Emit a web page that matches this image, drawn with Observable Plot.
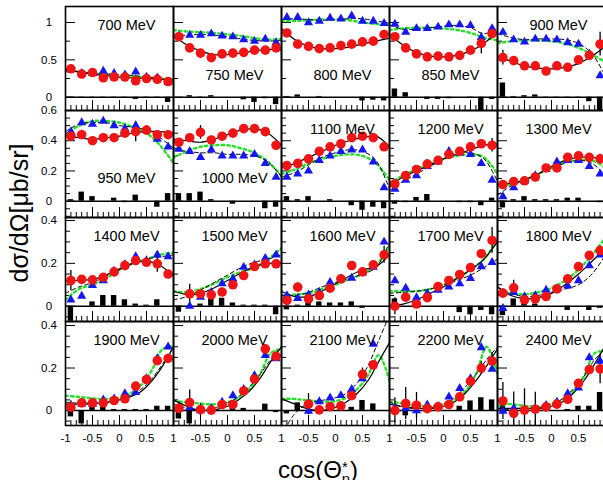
<!DOCTYPE html>
<html>
<head>
<meta charset="utf-8">
<script src="https://cdn.jsdelivr.net/npm/d3@7"></script>
<script src="https://cdn.jsdelivr.net/npm/@observablehq/plot@0.6"></script>
<style>
  html, body { margin: 0; padding: 0; background: #fff; overflow: hidden; }
  #fig { position: relative; width: 603px; height: 480px; overflow: hidden; background: #fff;
         font-family: "Liberation Sans", Arial, Helvetica, sans-serif; }
  #fig > div.row { position: absolute; left: 0; }
  #fig svg { display: block; }
  #titles { position: absolute; left: 0; top: 0; pointer-events: none; }
</style>
</head>
<body>
<div id="fig">
  <svg id="titles" width="603" height="480" font-family="Liberation Sans, Arial, Helvetica, sans-serif">
    <text transform="translate(28,213) rotate(-90)" text-anchor="middle" font-size="25">dσ/dΩ[μb/sr]</text>
    <text x="318" y="478" text-anchor="middle" font-size="24">cos(Θ<tspan font-size="15" dy="-6">*</tspan><tspan font-size="15" dx="-6" dy="12">η</tspan><tspan font-size="24" dy="-6">)</tspan></text>
  </svg>
</div>
<script>
// Beam energies, one panel each (5 per row)
const energies = [700, 750, 800, 850, 900, 950, 1000, 1100, 1200, 1300,
                  1400, 1500, 1600, 1700, 1800, 1900, 2000, 2100, 2200, 2400];

// Angular bin centres, cos(theta*)
const cosBins = [-0.9, -0.7, -0.5, -0.3, -0.1, 0.1, 0.3, 0.5, 0.7, 0.9];

// Red circles: dσ/dΩ [μb/sr] per energy (null = no point)
const redXS = [
  [0.38, 0.31, 0.33, 0.26, 0.27, 0.27, 0.22, 0.25, 0.24, 0.21],
  [0.81, 0.66, 0.59, 0.53, 0.58, 0.59, 0.60, 0.63, 0.63, 0.66],
  [0.86, 0.71, 0.68, 0.65, 0.66, 0.69, 0.71, 0.74, 0.75, 0.84],
  [0.81, 0.66, 0.58, 0.54, 0.55, 0.54, 0.56, 0.63, 0.72, 0.85],
  [0.53, 0.49, 0.42, 0.42, 0.35, 0.42, 0.40, 0.50, 0.56, 0.71],
  [0.43, 0.44, 0.40, 0.42, 0.42, 0.45, 0.46, 0.47, 0.44, 0.44],
  [0.39, 0.42, 0.455, 0.405, 0.43, 0.45, 0.48, 0.48, 0.46, 0.37],
  [0.235, 0.25, 0.28, 0.33, 0.36, 0.38, 0.42, 0.43, 0.42, 0.36],
  [0.115, 0.17, 0.21, 0.245, 0.27, 0.31, 0.33, 0.36, 0.38, 0.37],
  [0.11, 0.13, 0.135, 0.16, 0.22, 0.22, 0.29, 0.30, 0.29, 0.28],
  [0.12, 0.125, 0.123, 0.135, 0.16, 0.19, 0.213, 0.205, 0.198, 0.15],
  [null, 0.058, 0.058, 0.053, 0.066, 0.10, 0.143, 0.185, 0.198, 0.198],
  [0.027, 0.089, 0.034, 0.05, 0.084, 0.128, 0.19, 0.16, 0.193, 0.24],
  [0.0, 0.042, 0.01, 0.04, 0.092, 0.12, 0.148, 0.18, 0.245, 0.307],
  [0.061, 0.086, 0.03, 0.034, 0.045, 0.081, 0.128, 0.185, 0.237, 0.26],
  [0.016, 0.036, 0.036, 0.036, 0.047, 0.055, 0.115, 0.146, 0.235, 0.245],
  [0.01, 0.037, 0.004, 0.002, 0.028, 0.028, 0.092, 0.148, 0.29, 0.255],
  [null, null, 0.03, 0.003, 0.018, 0.022, 0.07, 0.17, 0.215, null],
  [0.0, 0.033, 0.025, 0.009, 0.017, 0.028, 0.064, 0.138, 0.20, 0.233],
  [0.045, -0.013, 0.002, 0.006, 0.017, 0.03, 0.053, 0.128, 0.193, 0.196]
];

// Red circle uncertainties
const redErr = [
  [0.02, 0.02, 0.02, 0.02, 0.02, 0.02, 0.02, 0.02, 0.02, 0.02],
  [0.02, 0.02, 0.02, 0.02, 0.02, 0.02, 0.02, 0.02, 0.02, 0.02],
  [0.02, 0.02, 0.02, 0.02, 0.02, 0.02, 0.02, 0.02, 0.02, 0.02],
  [0.02, 0.02, 0.02, 0.02, 0.02, 0.02, 0.02, 0.02, 0.14, 0.03],
  [0.10, 0.02, 0.02, 0.02, 0.02, 0.02, 0.02, 0.02, 0.02, 0.16],
  [0.015, 0.03, 0.015, 0.015, 0.015, 0.015, 0.066, 0.015, 0.015, 0.02],
  [0.015, 0.015, 0.045, 0.015, 0.015, 0.015, 0.015, 0.015, 0.02, 0.02],
  [0.015, 0.015, 0.015, 0.015, 0.015, 0.015, 0.015, 0.015, 0.03, 0.02],
  [0.015, 0.015, 0.015, 0.03, 0.015, 0.015, 0.015, 0.015, 0.015, 0.045],
  [0.015, 0.015, 0.015, 0.015, 0.015, 0.015, 0.015, 0.015, 0.015, 0.03],
  [0.047, 0.015, 0.015, 0.015, 0.015, 0.025, 0.015, 0.015, 0.04, 0.015],
  [0.01, 0.045, 0.01, 0.01, 0.01, 0.01, 0.01, 0.01, 0.01, 0.01],
  [0.02, 0.01, 0.01, 0.01, 0.01, 0.01, 0.01, 0.01, 0.01, 0.04],
  [0.04, 0.01, 0.01, 0.01, 0.01, 0.01, 0.01, 0.01, 0.01, 0.06],
  [0.02, 0.035, 0.01, 0.01, 0.01, 0.01, 0.01, 0.01, 0.01, 0.02],
  [0.03, 0.02, 0.01, 0.01, 0.01, 0.01, 0.01, 0.01, 0.02, 0.02],
  [0.03, 0.06, 0.03, 0.01, 0.01, 0.01, 0.01, 0.01, 0.02, 0.02],
  [0.01, 0.01, 0.05, 0.01, 0.01, 0.01, 0.01, 0.03, 0.02, 0.01],
  [0.06, 0.075, 0.06, 0.01, 0.01, 0.01, 0.01, 0.01, 0.03, 0.04],
  [0.087, 0.10, 0.10, 0.08, 0.01, 0.01, 0.01, 0.01, 0.02, 0.07]
];

// Blue triangles: dσ/dΩ [μb/sr] per energy
const blueXS = [
  [0.37, 0.32, 0.32, 0.35, 0.32, 0.30, 0.34, 0.27, 0.26, 0.20],
  [0.82, 0.83, 0.83, 0.85, 0.82, 0.81, 0.77, 0.75, 0.78, 0.73],
  [1.07, 1.07, 1.00, 1.02, 1.06, 1.05, 1.09, 1.02, 1.02, 0.99],
  [0.98, 0.87, 0.92, 0.92, 0.94, 0.97, 0.97, 0.96, 0.80, 0.92],
  [0.87, 0.77, 0.74, 0.78, 0.78, 0.77, 0.73, 0.71, 0.58, 0.29],
  [0.46, 0.52, 0.51, 0.53, 0.50, 0.48, 0.50, 0.47, 0.41, 0.36],
  [0.345, 0.33, 0.29, 0.34, 0.30, 0.30, 0.30, 0.31, 0.25, 0.16],
  [0.16, 0.18, 0.20, 0.27, 0.30, 0.33, 0.34, 0.34, 0.26, 0.09],
  [0.08, 0.14, 0.17, 0.23, 0.26, 0.33, 0.32, 0.31, 0.25, 0.14],
  [0.03, 0.09, 0.135, 0.17, 0.21, 0.26, 0.27, 0.27, 0.23, 0.18],
  [0.03, 0.047, 0.097, 0.12, 0.164, 0.19, 0.232, 0.213, 0.24, 0.232],
  [null, 0.0, 0.042, 0.065, 0.105, 0.128, 0.182, 0.193, 0.224, 0.24],
  [0.05, 0.037, 0.053, 0.065, 0.112, 0.125, 0.131, 0.156, 0.182, 0.30],
  [0.12, 0.085, 0.04, 0.06, 0.075, 0.09, 0.105, 0.13, 0.185, 0.205],
  [-0.01, 0.065, 0.045, 0.05, 0.075, 0.08, 0.095, 0.12, 0.19, 0.24],
  [0.02, 0.03, 0.03, 0.05, 0.055, 0.08, 0.085, 0.15, 0.245, 0.30],
  [0.008, 0.014, 0.0, 0.01, 0.04, 0.07, 0.10, 0.165, 0.26, 0.244],
  [null, null, -0.003, 0.042, 0.06, 0.071, 0.10, 0.15, 0.312, null],
  [0.01, 0.01, 0.0, 0.027, 0.02, 0.064, 0.104, 0.15, 0.296, 0.195],
  [-0.003, 0.01, 0.005, 0.01, 0.025, 0.04, 0.08, 0.107, 0.249, 0.233]
];

// Black bars: difference per bin
const diffBars = [
  [-0.01, -0.01, -0.01, -0.01, -0.01, -0.01, -0.03, -0.01, -0.01, -0.07],
  [0.0, 0.02, 0.005, 0.02, 0.0, 0.0, -0.035, -0.07, -0.02, -0.10],
  [0.01, 0.03, 0.0, 0.01, 0.0, 0.0, 0.0, -0.05, -0.04, -0.05],
  [0.11, 0.06, 0.0, -0.03, -0.03, -0.02, 0.0, -0.01, -0.18, -0.03],
  [0.19, 0.01, 0.02, 0.03, -0.01, -0.01, -0.01, -0.01, -0.06, -0.18],
  [0.01, 0.06, 0.03, 0.0, 0.02, -0.01, 0.04, 0.0, -0.04, 0.05],
  [0.05, 0.05, 0.06, 0.01, 0.0, -0.02, 0.0, 0.0, -0.05, -0.04],
  [0.03, 0.01, 0.03, 0.0, 0.01, 0.0, -0.03, -0.06, -0.04, -0.05],
  [-0.02, -0.01, 0.025, 0.044, 0.0, 0.0, -0.01, -0.01, -0.03, 0.02],
  [-0.045, 0.01, 0.03, 0.01, 0.01, 0.01, 0.02, 0.02, 0.0, -0.01],
  [-0.07, 0.0, 0.02, 0.05, 0.05, 0.03, 0.01, 0.005, 0.03, 0.0],
  [-0.028, 0.0, 0.01, 0.034, 0.037, 0.015, 0.005, 0.005, 0.005, -0.04],
  [-0.017, 0.005, 0.022, 0.02, 0.015, 0.015, 0.02, -0.01, 0.0, 0.0],
  [0.034, 0.0, -0.01, 0.0, 0.0, 0.0, -0.03, -0.04, -0.02, -0.04],
  [-0.044, 0.034, 0.02, 0.01, 0.0, 0.0, -0.02, 0.0, -0.02, -0.01],
  [-0.03, -0.063, 0.02, 0.03, 0.005, 0.005, 0.005, 0.005, 0.02, 0.02],
  [-0.04, -0.063, 0.0, 0.0, 0.0, 0.01, 0.01, 0.0, 0.03, -0.01],
  [-0.016, 0.036, 0.0, 0.0, 0.0, 0.005, 0.015, 0.047, 0.031, 0.0],
  [0.0, -0.025, 0.0, 0.0, 0.0, 0.0, 0.02, 0.045, 0.06, 0.05],
  [0.04, 0.0, 0.0, 0.0, 0.0, 0.0, 0.005, 0.02, 0.02, 0.085]
];

// Curves sampled evenly over cos from -1 to 1 (9 or 11 samples)
const fitRed = [
  [0.37, 0.34, 0.31, 0.29, 0.27, 0.26, 0.25, 0.24, 0.22],
  [0.82, 0.70, 0.62, 0.57, 0.57, 0.59, 0.62, 0.64, 0.63],
  [0.92, 0.77, 0.68, 0.65, 0.65, 0.67, 0.71, 0.75, 0.79],
  [0.84, 0.70, 0.60, 0.55, 0.54, 0.56, 0.62, 0.72, 0.88],
  [0.55, 0.48, 0.42, 0.39, 0.38, 0.40, 0.45, 0.55, 0.68],
  [0.43, 0.42, 0.41, 0.42, 0.43, 0.45, 0.46, 0.46, 0.45],
  [0.41, 0.40, 0.39, 0.41, 0.44, 0.47, 0.48, 0.45, 0.37],
  [0.22, 0.25, 0.29, 0.33, 0.37, 0.40, 0.42, 0.43, 0.36],
  [0.10, 0.16, 0.20, 0.24, 0.28, 0.31, 0.34, 0.37, 0.38],
  [0.11, 0.12, 0.14, 0.18, 0.23, 0.27, 0.29, 0.29, 0.27],
  [0.12, 0.12, 0.125, 0.145, 0.175, 0.20, 0.21, 0.19, 0.14],
  [0.07, 0.055, 0.06, 0.085, 0.12, 0.155, 0.185, 0.20, 0.20],
  [0.07, 0.045, 0.045, 0.07, 0.105, 0.14, 0.17, 0.185, 0.24],
  [0.0, 0.01, 0.03, 0.06, 0.09, 0.13, 0.17, 0.22, 0.30],
  [0.09, 0.05, 0.035, 0.04, 0.06, 0.10, 0.15, 0.21, 0.27],
  [0.03, 0.03, 0.03, 0.035, 0.04, 0.05, 0.065, 0.09, 0.14, 0.21, 0.30],
  [0.05, 0.025, 0.005, 0.0, 0.005, 0.02, 0.05, 0.09, 0.15, 0.23, 0.30],
  [0.055, 0.035, 0.015, 0.002, 0.002, 0.015, 0.04, 0.08, 0.14, 0.23, 0.32],
  [0.03, 0.02, 0.015, 0.01, 0.01, 0.02, 0.04, 0.08, 0.14, 0.21, 0.29],
  [0.01, 0.01, 0.01, 0.01, 0.01, 0.02, 0.04, 0.08, 0.14, 0.22, 0.31]
];
const fitBlue = [
  [0.36, 0.34, 0.32, 0.31, 0.30, 0.29, 0.27, 0.25, 0.22],
  [0.82, 0.83, 0.84, 0.83, 0.81, 0.78, 0.76, 0.75, 0.76],
  [1.04, 1.05, 1.04, 1.03, 1.04, 1.05, 1.05, 1.02, 0.99],
  [0.97, 0.91, 0.91, 0.93, 0.95, 0.96, 0.93, 0.85, 0.92],
  [0.85, 0.80, 0.77, 0.78, 0.78, 0.77, 0.72, 0.58, 0.28],
  [0.46, 0.51, 0.52, 0.52, 0.50, 0.49, 0.47, 0.42, 0.35],
  [0.34, 0.33, 0.32, 0.32, 0.31, 0.31, 0.30, 0.26, 0.16],
  [0.16, 0.19, 0.24, 0.29, 0.32, 0.34, 0.33, 0.27, 0.08],
  [0.07, 0.13, 0.18, 0.23, 0.28, 0.32, 0.32, 0.28, 0.13],
  [0.04, 0.10, 0.14, 0.18, 0.22, 0.25, 0.27, 0.25, 0.17],
  [0.06, 0.09, 0.11, 0.14, 0.17, 0.20, 0.22, 0.23, 0.24],
  [0.03, 0.045, 0.075, 0.11, 0.145, 0.18, 0.205, 0.22, 0.24],
  [0.05, 0.05, 0.065, 0.09, 0.11, 0.13, 0.15, 0.18, 0.30],
  [0.06, 0.065, 0.07, 0.08, 0.10, 0.12, 0.145, 0.18, 0.22],
  [0.09, 0.06, 0.045, 0.05, 0.065, 0.08, 0.10, 0.15, 0.24],
  [0.04, 0.035, 0.035, 0.035, 0.04, 0.05, 0.07, 0.10, 0.15, 0.22, 0.30],
  [0.03, 0.015, 0.005, 0.005, 0.015, 0.035, 0.065, 0.11, 0.17, 0.24, 0.30],
  [-0.12, -0.03, 0.02, 0.04, 0.05, 0.06, 0.08, 0.13, 0.21, 0.33, 0.45],
  [0.04, 0.02, 0.01, 0.01, 0.015, 0.03, 0.06, 0.11, 0.17, 0.24, 0.30],
  [0.0, 0.005, 0.01, 0.01, 0.015, 0.03, 0.055, 0.10, 0.16, 0.24, 0.29]
];
const modelCurve = [
  [0.35, 0.34, 0.32, 0.31, 0.29, 0.28, 0.26, 0.25, 0.24],
  [0.90, 0.88, 0.87, 0.86, 0.84, 0.82, 0.79, 0.77, 0.78],
  [1.02, 1.02, 1.03, 1.04, 1.04, 1.03, 1.00, 0.98, 0.97],
  [0.90, 0.92, 0.93, 0.93, 0.92, 0.90, 0.86, 0.80, 0.76],
  [0.72, 0.75, 0.76, 0.76, 0.75, 0.72, 0.66, 0.57, 0.47],
  [0.44, 0.50, 0.53, 0.53, 0.52, 0.49, 0.45, 0.37, 0.25],
  [0.29, 0.33, 0.36, 0.37, 0.37, 0.35, 0.32, 0.26, 0.17],
  [0.18, 0.21, 0.25, 0.28, 0.30, 0.31, 0.30, 0.25, 0.14],
  [0.12, 0.17, 0.21, 0.25, 0.28, 0.30, 0.31, 0.29, 0.18],
  [0.10, 0.11, 0.14, 0.18, 0.22, 0.26, 0.27, 0.27, 0.22],
  [0.03, 0.08, 0.10, 0.13, 0.17, 0.20, 0.22, 0.24, 0.25],
  [0.07, 0.065, 0.08, 0.105, 0.135, 0.16, 0.18, 0.22, 0.27],
  [0.05, 0.055, 0.06, 0.08, 0.10, 0.125, 0.15, 0.19, 0.28],
  [0.07, 0.07, 0.07, 0.08, 0.10, 0.13, 0.17, 0.22, 0.31],
  [0.06, 0.06, 0.055, 0.065, 0.085, 0.12, 0.17, 0.24, 0.32],
  [0.07, 0.065, 0.06, 0.055, 0.055, 0.06, 0.08, 0.12, 0.19, 0.29, 0.30],
  [0.045, 0.04, 0.035, 0.03, 0.03, 0.04, 0.06, 0.10, 0.17, 0.27, 0.29],
  [0.055, 0.055, 0.05, 0.045, 0.04, 0.045, 0.06, 0.10, 0.165, 0.26, 0.14],
  [0.04, 0.035, 0.025, 0.02, 0.02, 0.03, 0.05, 0.09, 0.17, 0.30, 0.17],
  [0.02, 0.03, 0.025, 0.02, 0.02, 0.03, 0.05, 0.09, 0.16, 0.27, 0.28]
];

// Axis ticks
const yLabelTicks = [[0, 0.5, 1], [0, 0.2, 0.4, 0.6], [0, 0.2, 0.4], [0, 0.2, 0.4]];
const yMinorTicks = [
  [0.25, 0.75],
  [-0.1, -0.05, 0.05, 0.1, 0.15, 0.25, 0.3, 0.35, 0.45, 0.5, 0.55],
  [-0.05, 0.05, 0.1, 0.15, 0.25, 0.3, 0.35],
  [-0.05, 0.05, 0.1, 0.15, 0.25, 0.3, 0.35]
];
const xLabelTicks = [-1, -0.5, 0, 0.5, 1];
const xMinorTicks = [-0.9, -0.8, -0.7, -0.6, -0.4, -0.3, -0.2, -0.1,
                     0.1, 0.2, 0.3, 0.4, 0.6, 0.7, 0.8, 0.9];

// Panels whose energy label sits low in the frame
const lowerLabelEnergies = [750, 800, 850, 950, 1000];

// Long-format tables for the marks
const points = energies.flatMap((e, k) => cosBins.map((c, i) => ({
  e: String(e), c, red: redXS[k][i], err: redErr[k][i], blue: blueXS[k][i], bar: diffBars[k][i]
})));
const curves = energies.flatMap((e, k) =>
  [["fit", fitRed[k]], ["fitB", fitBlue[k]], ["model", modelCurve[k]]].flatMap(([kind, arr]) =>
    arr.map((v, i) => ({ e: String(e), kind, c: -1 + 2 * i / (arr.length - 1), v }))));

// Row geometry (pixels) and per-row y ranges
const rowLayout = [
  { top: 0,   mt: 6, h: 104, mb: 0,  y: [-0.178, 1.214],  lowDy: -30.5 },
  { top: 110, mt: 0, h: 107, mb: 0,  y: [-0.108, 0.6],    lowDy: -35 },
  { top: 217, mt: 0, h: 104, mb: 0,  y: [-0.0714, 0.414], lowDy: -30 },
  { top: 321, mt: 0, h: 104, mb: 30, y: [-0.0706, 0.419], lowDy: -30 }
];
const panelW = 108;
const green = "#26e026", blue = "#1616f0", red = "#f01414";

function rowPlot(ri) {
  const L = rowLayout[ri];
  const es = energies.slice(ri * 5, ri * 5 + 5).map(String);
  const pts = points.filter(d => es.includes(d.e));
  const crv = curves.filter(d => es.includes(d.e));
  const labelTop = es.filter(e => !lowerLabelEnergies.includes(+e));
  const labelLow = es.filter(e => lowerLabelEnergies.includes(+e));
  const marks = [
    Plot.rect(pts, { fx: "e", x1: d => d.c - 0.05, x2: d => d.c + 0.05, y1: 0, y2: "bar", fill: "black", clip: true }),
    Plot.ruleY([0], { stroke: "black", strokeWidth: 1.6 }),
    Plot.tickX(xMinorTicks, { x: d => d, insetTop: L.h - 5, stroke: "black", strokeWidth: 1 }),
    Plot.tickX(xLabelTicks, { x: d => d, insetTop: L.h - 10, stroke: "black", strokeWidth: 1 }),
    Plot.tickY(yMinorTicks[ri], { y: d => d, insetRight: panelW - 5, stroke: "black", strokeWidth: 1 }),
    Plot.tickY(yLabelTicks[ri], { y: d => d, insetRight: panelW - 10, stroke: "black", strokeWidth: 1 }),
    Plot.line(crv.filter(d => d.kind === "model"), { fx: "e", x: "c", y: "v", curve: "catmull-rom",
      stroke: green, strokeWidth: 2.4, strokeDasharray: "2.4,3.2", clip: true }),
    Plot.line(crv.filter(d => d.kind === "fitB"), { fx: "e", x: "c", y: "v", curve: "catmull-rom",
      stroke: "black", strokeWidth: 1, strokeDasharray: "4,3", clip: true }),
    Plot.line(crv.filter(d => d.kind === "fit"), { fx: "e", x: "c", y: "v", curve: "catmull-rom",
      stroke: "black", strokeWidth: 1.2, clip: true }),
    Plot.ruleX(pts.filter(d => d.red != null), { fx: "e", x: "c", y1: d => d.red - d.err, y2: d => d.red + d.err,
      stroke: "black", strokeWidth: 1.3, clip: true }),
    Plot.dot(pts.filter(d => d.blue != null), { fx: "e", x: "c", y: "blue", symbol: "triangle", r: 3.4, fill: blue }),
    Plot.dot(pts.filter(d => d.red != null), { fx: "e", x: "c", y: "red", r: 4.8, fill: red }),
    Plot.frame({ stroke: "black", strokeWidth: 1.6 }),
    Plot.text(labelTop, { fx: d => d, text: d => `${d} MeV`, frameAnchor: "top", dx: 7, dy: 13, fontSize: 14.5 }),
    Plot.text(labelLow, { fx: d => d, text: d => `${d} MeV`, frameAnchor: "bottom", dx: 7, dy: L.lowDy, fontSize: 14.5 }),
    Plot.text(yLabelTicks[ri], { fx: () => es[0], y: d => d, text: d => String(d), frameAnchor: "left",
      dx: -16.5, textAnchor: "middle" })
  ];
  if (ri === 3) {
    const xl = es.flatMap((e, j) => xLabelTicks.filter(c => j === 0 || c > -1).map(c => ({ e, c })));
    marks.push(Plot.text(xl, { fx: "e", x: "c", text: d => String(d.c), frameAnchor: "bottom", dy: 16 }));
  }
  return Plot.plot({
    width: 65 + 5 * panelW,
    height: L.mt + L.h + L.mb,
    marginLeft: 65, marginRight: 0, marginTop: L.mt, marginBottom: L.mb,
    fx: { domain: es, padding: 0, axis: null, round: false },
    x: { domain: [-1, 1], axis: null },
    y: { domain: L.y, axis: null },
    style: { background: "transparent", overflow: "visible", maxWidth: "none",
             fontFamily: "Liberation Sans, Arial, Helvetica, sans-serif", fontSize: "11.5px", color: "black" },
    marks
  });
}

const fig = document.getElementById("fig");
const titles = document.getElementById("titles");
rowLayout.forEach((L, ri) => {
  const holder = document.createElement("div");
  holder.className = "row";
  holder.style.top = L.top + "px";
  holder.appendChild(rowPlot(ri));
  fig.insertBefore(holder, titles);
});
</script>
</body>
</html>
